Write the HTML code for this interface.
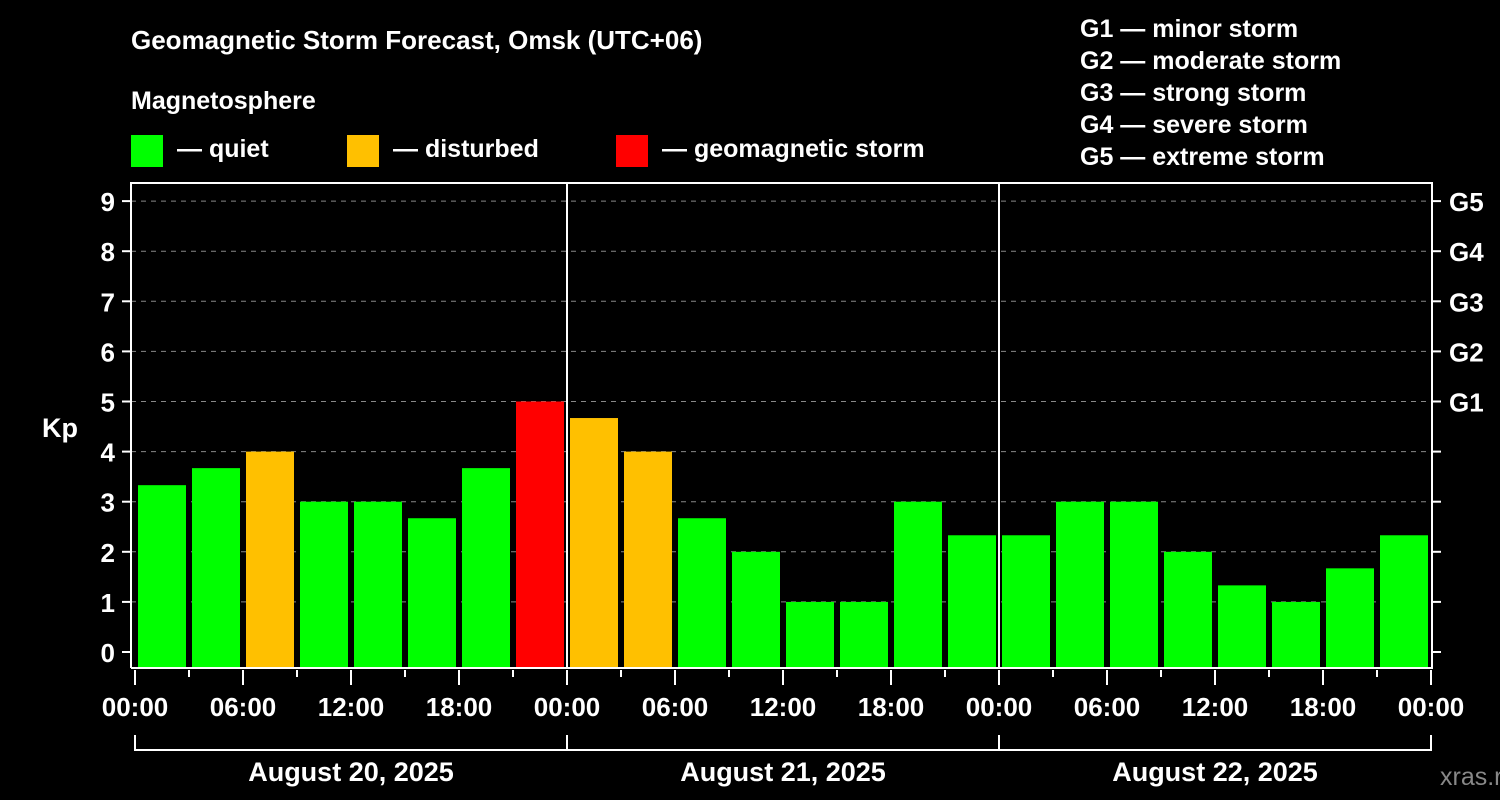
<!DOCTYPE html>
<html><head><meta charset="utf-8"><style>
body{margin:0;background:#000;}
svg{display:block;font-family:"Liberation Sans",Arial,sans-serif;font-weight:bold;}
</style></head><body>
<svg id="c" width="1500" height="800" viewBox="0 0 1500 800">
<rect width="1500" height="800" fill="#000"/>
<text x="131" y="49" fill="#fff" font-size="26">Geomagnetic Storm Forecast, Omsk (UTC+06)</text>
<text x="131" y="109" fill="#fff" font-size="25">Magnetosphere</text>
<g><rect x="131" y="135" width="32" height="32" fill="#00ff00"/><text x="177" y="157" fill="#fff" font-size="25">— quiet</text></g>
<g><rect x="347" y="135" width="32" height="32" fill="#ffc000"/><text x="393" y="157" fill="#fff" font-size="25">— disturbed</text></g>
<g><rect x="616" y="135" width="32" height="32" fill="#ff0000"/><text x="662" y="157" fill="#fff" font-size="25">— geomagnetic storm</text></g>
<g fill="#fff" font-size="25">
<text x="1080" y="37">G1 — minor storm</text>
<text x="1080" y="69">G2 — moderate storm</text>
<text x="1080" y="101">G3 — strong storm</text>
<text x="1080" y="133">G4 — severe storm</text>
<text x="1080" y="165">G5 — extreme storm</text>
</g>
<text x="42" y="437" fill="#fff" font-size="27">Kp</text>
<text x="1440" y="785" fill="#888" font-size="25" font-weight="normal">xras.ru</text>
<g id="plot"></g>
</svg>
<script>
const dayLabels=["August 20, 2025","August 21, 2025","August 22, 2025"];
const kpValues=[3.33,3.67,4,3,3,2.67,3.67,5, 4.67,4,2.67,2,1,1,3,2.33, 2.33,3,3,2,1.33,1,1.67,2.33];
const yTicks=[0,1,2,3,4,5,6,7,8,9];
const gLabels=["G1","G2","G3","G4","G5"];
const timeLabels=["00:00","06:00","12:00","18:00"];
const NS="http://www.w3.org/2000/svg";
const g=document.getElementById('plot');
const X0=135,HR=18,Y0=652,KU=50.1,TOP=183,BOT=668,L=131,R=1432;
const x=h=>X0+h*HR, y=v=>Y0-v*KU;
function el(t,a,p){const e=document.createElementNS(NS,t);for(const k in a)e.setAttribute(k,a[k]);(p||g).appendChild(e);return e;}
function col(v){return v>=5?"#ff0000":v>=4?"#ffc000":"#00ff00";}
yTicks.forEach(v=>{
 if(v>0){const gl=el('line',{x1:L,x2:R,y1:y(v),y2:y(v),stroke:'#888','stroke-dasharray':'5,5','stroke-width':1});
 
 }
 const t=el('line',{x1:L-9,x2:L,y1:y(v),y2:y(v),stroke:'#fff','stroke-width':2});
 
 
 const t2=el('line',{x1:R,x2:R+9,y1:y(v),y2:y(v),stroke:'#fff','stroke-width':2});
 
 
 const lb=el('text',{x:L-16,y:y(v)+10,fill:'#fff','font-size':26,'text-anchor':'end'});lb.textContent=v;
 
 
});
gLabels.forEach((s,i)=>{const t=el('text',{x:R+17,y:y(5+i)+10,fill:'#fff','font-size':26});t.textContent=s;
 
 });
kpValues.forEach((v,i)=>{
 const b=el('rect',{x:x(i*3)+3,y:y(v),width:48,height:BOT-y(v),fill:col(v)});
 
 
});
// frame
const fr=el('path',{d:`M${L} ${BOT}V${TOP}H${R}V${BOT}H${L}`,fill:'none',stroke:'#fff','stroke-width':2});


for(let d=1;d<3;d++){const s=el('line',{x1:x(d*24),x2:x(d*24),y1:TOP,y2:BOT,stroke:'#fff','stroke-width':2});
 
 }
for(let h=0;h<=72;h+=3){
 const major=h%6===0;
 const t=el('line',{x1:x(h),x2:x(h),y1:BOT+2,y2:BOT+(major?17:9),stroke:'#fff','stroke-width':2});
 
 
 if(major&&h%6===0&&(h%24)%6===0){
  const lb=el('text',{x:x(h),y:716,fill:'#fff','font-size':26,'text-anchor':'middle'});
  lb.textContent=timeLabels[(h%24)/6];
  
  
 }
}
dayLabels.forEach((s,d)=>{
 const br=el('path',{d:`M${x(d*24)} 735V750H${x(d*24+24)}${d==2?'V735':''}`,fill:'none',stroke:'#fff','stroke-width':2});
 
 
 const t=el('text',{x:x(d*24+12),y:781,fill:'#fff','font-size':27,'text-anchor':'middle'});t.textContent=s;
 
 
});
</script>
</body></html>
